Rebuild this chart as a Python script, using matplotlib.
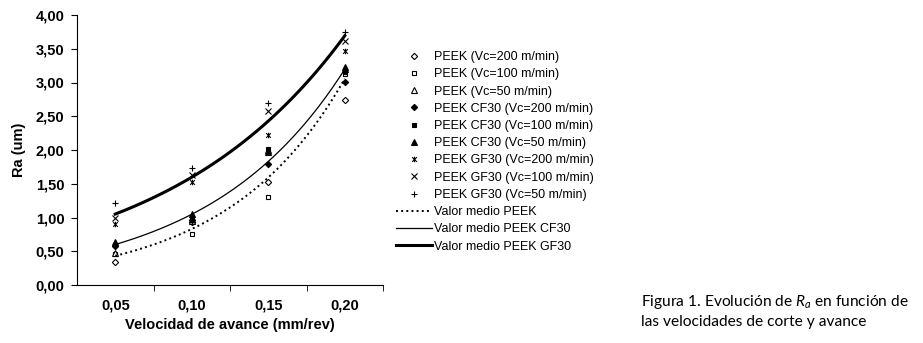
import matplotlib
matplotlib.use("Agg")
import matplotlib.pyplot as plt
import numpy as np
from matplotlib.path import Path

# feed rates (categories) and Ra values
avance = ["0,05", "0,10", "0,15", "0,20"]

peek_200 = [0.34, 0.93, 1.52, 2.74]
peek_100 = [0.46, 0.75, 1.31, 3.13]
peek_50 = [0.47, 0.95, 2.00, 3.20]
cf30_200 = [0.58, 0.97, 1.80, 3.01]
cf30_100 = [0.60, 1.00, 2.02, 3.16]
cf30_50 = [0.64, 1.05, 1.97, 3.23]
gf30_200 = [0.90, 1.52, 2.22, 3.46]
gf30_100 = [1.00, 1.63, 2.58, 3.62]
gf30_50 = [1.21, 1.74, 2.70, 3.75]

# x with a vertical bar (Excel "star" marker)
star = Path([(-1, -1), (1, 1), (-1, 1), (1, -1), (0, -1.2), (0, 1.2)],
            [Path.MOVETO, Path.LINETO, Path.MOVETO, Path.LINETO, Path.MOVETO, Path.LINETO])

plt.rcParams['font.family'] = ['Liberation Sans', 'DejaVu Sans']
plt.rcParams['mathtext.fontset'] = 'custom'
plt.rcParams['mathtext.rm'] = 'Lato'
plt.rcParams['mathtext.it'] = 'Lato:italic'

fig = plt.figure(figsize=(9.23, 3.43), dpi=100)
ax = fig.add_axes([77/923, 58/343, 306/923, 270/343])

x = np.arange(1, 5)
series = [
    (peek_200, "D", "white", 3.2, "PEEK (Vc=200 m/min)"),
    (peek_100, "s", "white", 3.5, "PEEK (Vc=100 m/min)"),
    (peek_50, "^", "white", 3.8, "PEEK (Vc=50 m/min)"),
    (cf30_200, "D", "black", 3.2, "PEEK CF30 (Vc=200 m/min)"),
    (cf30_100, "s", "black", 3.5, "PEEK CF30 (Vc=100 m/min)"),
    (cf30_50, "^", "black", 3.8, "PEEK CF30 (Vc=50 m/min)"),
    (gf30_200, star, "black", 4.0, "PEEK GF30 (Vc=200 m/min)"),
    (gf30_100, "x", "black", 4.0, "PEEK GF30 (Vc=100 m/min)"),
    (gf30_50, "+", "black", 5.0, "PEEK GF30 (Vc=50 m/min)"),
]
for vals, m, fc, ms, lab in series:
    ax.plot(x, vals, linestyle="none", marker=m, markerfacecolor=fc,
            markeredgecolor="black", markersize=ms, markeredgewidth=0.8, label=lab)

# exponential trend lines of each material (like Excel)
xs = np.linspace(1, 4, 100)
groups = [
    (peek_200 + peek_100 + peek_50, ":", 1.4, "Valor medio PEEK"),
    (cf30_200 + cf30_100 + cf30_50, "-", 0.9, "Valor medio PEEK CF30"),
    (gf30_200 + gf30_100 + gf30_50, "-", 2.2, "Valor medio PEEK GF30"),
]
for vals, ls, lw, lab in groups:
    xx = np.tile(x, 3)
    b, a = np.polyfit(xx, np.log(vals), 1)
    ax.plot(xs, np.exp(a + b * xs), color="black", linestyle=ls, linewidth=lw, label=lab)

ax.set_xlim(0.5, 4.5)
ax.set_ylim(0, 4)
ax.set_xticks(x)
ax.set_xticklabels(avance, fontweight="bold", fontsize=10.5)
ax.tick_params(axis="x", which="major", length=0, pad=10)
ax.set_xticks([1.5, 2.5, 3.5, 4.5], minor=True)
ax.tick_params(axis="x", which="minor", length=4, direction="out")
yt = np.arange(0, 4.01, 0.5)
ax.set_yticks(yt)
ax.set_yticklabels([f"{v:.2f}".replace(".", ",") for v in yt], fontweight="bold", fontsize=10.5)
ax.tick_params(axis="y", length=4, direction="out", pad=5)
ax.spines["top"].set_visible(False)
ax.spines["right"].set_visible(False)
ax.set_xlabel("Velocidad de avance (mm/rev)", fontweight="bold", fontsize=10.5, labelpad=4)
ax.set_ylabel("Ra (um)", fontweight="bold", fontsize=10.5, labelpad=7)

ax.legend(loc="upper left", bbox_to_anchor=(396/923, 1 - 51/343), bbox_transform=fig.transFigure,
          frameon=False, fontsize=9, handlelength=2.9, handletextpad=0.15,
          labelspacing=0.42, borderpad=0, borderaxespad=0)

fig.text(641/923, 1 - 311/343, "Figura 1. Evolución de $\\mathit{R}_{a}$ en función de\nlas velocidades de corte y avance",
         family="Lato", fontsize=11.2, va="center", ha="left", linespacing=1.45)

fig.savefig("out.png", dpi=100)
